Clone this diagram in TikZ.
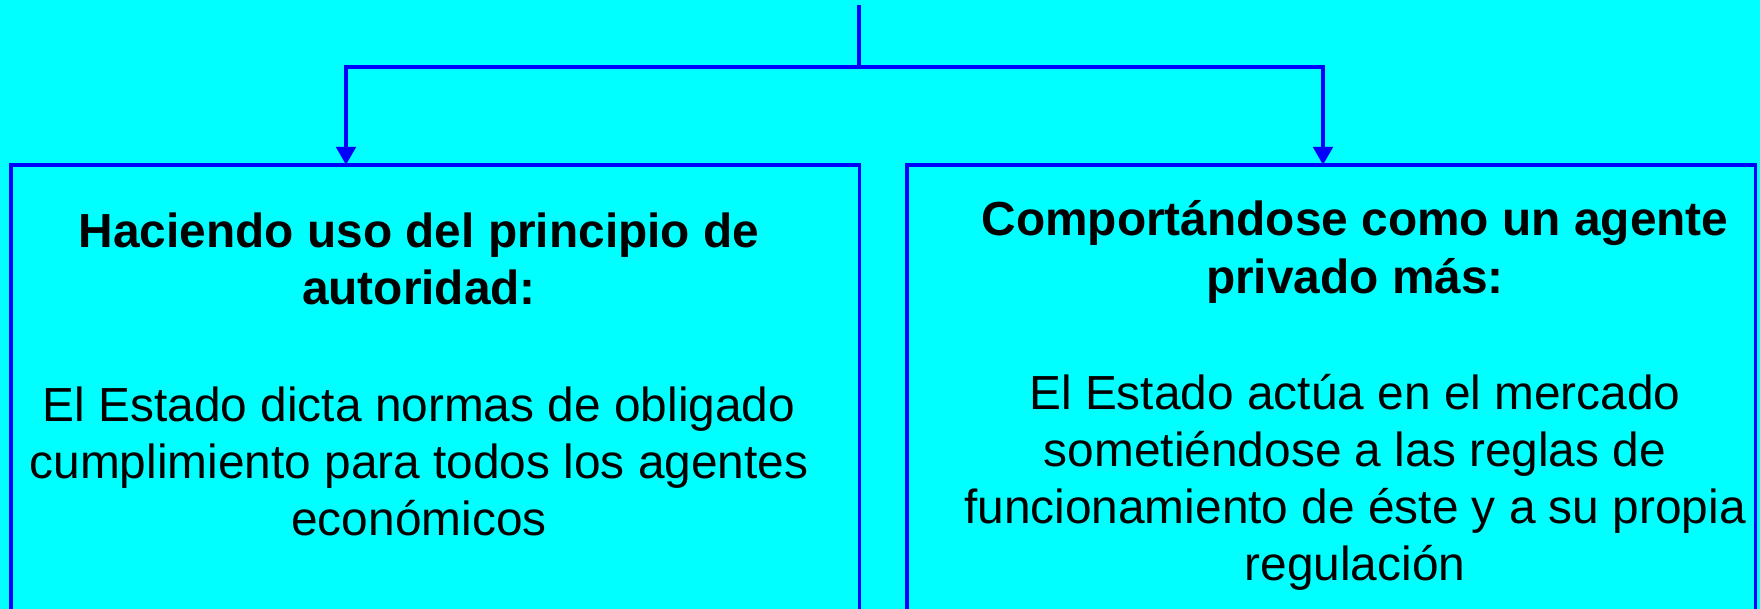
\documentclass[tikz,border=0pt]{standalone}
\usepackage{fontspec}
\setmainfont{Liberation Sans}
\usetikzlibrary{arrows.meta}
\definecolor{fondo}{HTML}{00FFFF}
\definecolor{azul}{HTML}{0000FF}
\tikzset{
  caja/.style = {draw=azul, line width=1pt, minimum width=8.48cm, minimum height=5.4cm, anchor=north west, inner sep=0pt, outer sep=0pt},
  linea/.style = {draw=azul, line width=1.4pt},
  flecha/.style = {linea, -{Triangle[width=0.19cm, length=0.18cm]}},
  texto/.style = {align=center, inner sep=0pt, font=\fontsize{13.6}{16.2}\selectfont},
  titulo/.style = {texto, font=\fontsize{13.6}{16.4}\selectfont\bfseries}
}

\begin{document}
\begin{tikzpicture}[x=0.01cm, y=-0.01cm]
\fill[fondo] (0,0) rectangle (1760,609);
\useasboundingbox (0,0) rectangle (1760,609);
\clip (0,0) rectangle (1760,609);
\node[caja] (izq) at (11,165) {};
\node[caja] (der) at (907,165) {};
\node[titulo] (tizq) at (419,259) {Haciendo uso del principio de\\autoridad:};
\node[texto] (cizq) at (419,461) {El Estado dicta normas de obligado\\cumplimiento para todos los agentes\\económicos};
\node[titulo] (tder) at (1355,252) {Comportándose como un agente\\privado más:};
\node[texto] (cder) at (1355,482) {El Estado actúa en el mercado\\sometiéndose a las reglas de\\funcionamiento de éste y a su propia\\regulación};
\coordinate (arriba) at (859,5);
\coordinate (cruce) at (859,67);
\coordinate (entizq) at (346,165);
\coordinate (entder) at (1323,165);
\draw[linea] (arriba) -- (cruce);
\draw[flecha] (cruce) -| (entizq);
\draw[flecha] (cruce) -| (entder);
\end{tikzpicture}
\end{document}
